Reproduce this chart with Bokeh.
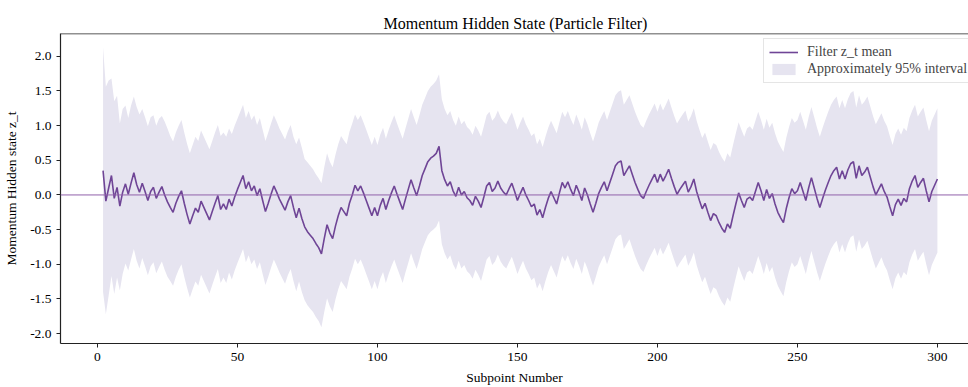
from bokeh.plotting import figure
from bokeh.models import (Range1d, Span, Legend, LegendItem, FixedTicker, NumeralTickFormatter,
                          ColumnDataSource)
from bokeh.embed import file_html
from bokeh.resources import INLINE

mean = [
 0.35, -0.09, 0.10, 0.28, -0.05, 0.11, -0.16, 0.04, 0.16, 0.01,
 0.17, 0.32, 0.15, 0.04, 0.17, 0.05, -0.08, 0.05, 0.11, -0.05,
 0.04, 0.12, 0.00, -0.10, -0.18, -0.25, -0.12, -0.02, 0.06, -0.12,
 -0.28, -0.42, -0.30, -0.19, -0.25, -0.09, -0.18, -0.27, -0.36, -0.24,
 -0.12, -0.01, -0.21, -0.13, -0.21, -0.06, -0.16, -0.03, 0.08, 0.18,
 0.28, 0.09, 0.19, 0.06, 0.13, -0.01, 0.09, -0.08, -0.24, -0.12,
 0.01, 0.13, 0.04, -0.06, -0.14, -0.22, -0.10, -0.01, -0.18, -0.33,
 -0.19, -0.34, -0.46, -0.53, -0.58, -0.63, -0.70, -0.76, -0.85, -0.63,
 -0.43, -0.55, -0.63, -0.45, -0.30, -0.18, -0.24, -0.30, -0.12, 0.00,
 0.14, 0.06, 0.13, 0.03, -0.08, -0.19, -0.30, -0.18, -0.30, -0.15,
 -0.05, -0.21, -0.08, 0.03, 0.13, 0.01, -0.10, -0.21, -0.06, 0.08,
 0.22, 0.10, -0.01, 0.13, 0.28, 0.38, 0.48, 0.53, 0.56, 0.60,
 0.70, 0.35, 0.22, 0.13, 0.19, 0.06, -0.02, 0.11, 0.00, 0.05,
 -0.04, -0.08, -0.15, -0.02, -0.09, -0.18, -0.03, 0.13, 0.18, 0.05,
 0.10, 0.20, 0.10, 0.04, 0.00, 0.09, 0.17, 0.05, -0.08, 0.02,
 0.11, 0.00, -0.08, -0.17, -0.13, -0.29, -0.21, -0.33, -0.18, -0.05,
 0.05, -0.04, -0.13, 0.03, 0.18, 0.10, 0.19, 0.08, -0.01, 0.14,
 0.04, -0.08, 0.10, 0.00, -0.13, -0.25, -0.12, 0.02, 0.11, 0.19,
 0.06, 0.18, 0.30, 0.42, 0.47, 0.49, 0.28, 0.35, 0.42, 0.30,
 0.18, 0.08, -0.01, -0.05, 0.05, 0.14, 0.22, 0.30, 0.18, 0.30,
 0.20, 0.28, 0.37, 0.24, 0.12, 0.01, 0.08, 0.14, 0.20, 0.04,
 0.12, 0.23, 0.05, -0.08, -0.20, -0.12, -0.25, -0.37, -0.27, -0.30,
 -0.40, -0.48, -0.54, -0.42, -0.48, -0.30, -0.13, 0.03, -0.08, -0.18,
 -0.06, -0.03, -0.08, 0.05, 0.18, 0.06, -0.08, 0.08, -0.05, 0.02,
 -0.13, -0.25, -0.33, -0.40, -0.20, -0.04, 0.09, 0.02, 0.06, 0.18,
 0.05, -0.08, 0.10, 0.25, 0.10, -0.05, -0.18, -0.05, 0.07, 0.18,
 0.28, 0.35, 0.40, 0.23, 0.35, 0.23, 0.36, 0.45, 0.48, 0.24,
 0.42, 0.28, 0.33, 0.40, 0.26, 0.12, 0.00, 0.08, 0.16, 0.05,
 -0.03, -0.17, -0.30, -0.14, -0.06, -0.15, -0.05, -0.10, 0.09, 0.20,
 0.28, 0.11, 0.18, 0.24, 0.06, -0.10, 0.05, 0.14, 0.23,
]

upper = [
 2.13, 1.56, 1.65, 1.68, 1.35, 1.43, 1.03, 1.24, 1.29, 1.11,
 1.29, 1.42, 1.27, 1.16, 1.24, 1.12, 0.99, 1.12, 1.15, 1.00,
 1.10, 1.14, 1.06, 0.96, 0.85, 0.77, 0.90, 1.00, 1.08, 0.90,
 0.74, 0.60, 0.72, 0.84, 0.78, 0.93, 0.84, 0.75, 0.66, 0.78,
 0.90, 1.01, 0.85, 0.90, 0.84, 0.96, 0.88, 1.00, 1.10, 1.20,
 1.30, 1.11, 1.21, 1.08, 1.15, 1.01, 1.11, 0.94, 0.78, 0.90,
 1.03, 1.15, 1.06, 0.96, 0.88, 0.80, 0.92, 1.01, 0.84, 0.73,
 0.83, 0.68, 0.52, 0.47, 0.42, 0.37, 0.30, 0.24, 0.17, 0.40,
 0.60, 0.48, 0.40, 0.58, 0.73, 0.85, 0.79, 0.73, 0.91, 1.03,
 1.16, 1.08, 1.15, 1.05, 0.94, 0.83, 0.72, 0.84, 0.72, 0.87,
 0.97, 0.81, 0.94, 1.05, 1.15, 1.03, 0.92, 0.81, 0.96, 1.10,
 1.24, 1.12, 1.01, 1.15, 1.30, 1.40, 1.50, 1.56, 1.60, 1.65,
 1.74, 1.38, 1.24, 1.15, 1.21, 1.08, 1.00, 1.13, 1.02, 1.07,
 0.98, 0.94, 0.87, 1.00, 0.93, 0.84, 0.99, 1.15, 1.20, 1.07,
 1.12, 1.22, 1.12, 1.06, 1.02, 1.11, 1.19, 1.07, 0.94, 1.04,
 1.13, 1.02, 0.94, 0.85, 0.89, 0.73, 0.81, 0.69, 0.84, 0.97,
 1.07, 0.98, 0.89, 1.05, 1.20, 1.12, 1.21, 1.10, 1.01, 1.16,
 1.06, 0.94, 1.12, 1.02, 0.89, 0.77, 0.90, 1.04, 1.13, 1.21,
 1.08, 1.20, 1.32, 1.44, 1.49, 1.51, 1.30, 1.37, 1.44, 1.32,
 1.20, 1.10, 1.01, 0.97, 1.07, 1.16, 1.24, 1.32, 1.20, 1.32,
 1.22, 1.30, 1.39, 1.26, 1.14, 1.03, 1.10, 1.16, 1.22, 1.06,
 1.14, 1.25, 1.07, 0.94, 0.82, 0.90, 0.77, 0.65, 0.75, 0.72,
 0.62, 0.54, 0.48, 0.60, 0.54, 0.72, 0.89, 1.05, 0.94, 0.84,
 0.96, 0.99, 0.94, 1.07, 1.20, 1.08, 0.94, 1.10, 0.97, 1.04,
 0.89, 0.77, 0.69, 0.62, 0.82, 0.98, 1.11, 1.04, 1.08, 1.20,
 1.07, 0.94, 1.12, 1.27, 1.12, 0.97, 0.84, 0.97, 1.09, 1.20,
 1.30, 1.37, 1.42, 1.25, 1.37, 1.25, 1.38, 1.47, 1.50, 1.26,
 1.44, 1.30, 1.35, 1.42, 1.28, 1.14, 1.02, 1.10, 1.18, 1.07,
 0.99, 0.85, 0.72, 0.88, 0.96, 0.87, 0.97, 0.92, 1.11, 1.22,
 1.30, 1.13, 1.20, 1.26, 1.08, 0.92, 1.07, 1.16, 1.25,
]

lower = [
 -1.40, -1.72, -1.45, -1.17, -1.43, -1.19, -1.38, -1.14, -0.99, -1.09,
 -0.93, -0.78, -0.95, -1.06, -0.91, -1.03, -1.16, -1.03, -0.97, -1.13,
 -1.04, -0.96, -1.08, -1.18, -1.24, -1.31, -1.18, -1.08, -1.00, -1.18,
 -1.34, -1.48, -1.36, -1.25, -1.31, -1.15, -1.24, -1.33, -1.42, -1.30,
 -1.18, -1.07, -1.27, -1.19, -1.27, -1.12, -1.22, -1.09, -0.98, -0.88,
 -0.78, -0.97, -0.87, -1.00, -0.93, -1.07, -0.97, -1.14, -1.30, -1.18,
 -1.05, -0.93, -1.02, -1.12, -1.20, -1.28, -1.16, -1.07, -1.24, -1.39,
 -1.25, -1.40, -1.52, -1.59, -1.64, -1.69, -1.76, -1.82, -1.91, -1.69,
 -1.49, -1.61, -1.69, -1.51, -1.36, -1.24, -1.30, -1.36, -1.18, -1.06,
 -0.92, -1.00, -0.93, -1.03, -1.14, -1.25, -1.36, -1.24, -1.36, -1.21,
 -1.11, -1.27, -1.14, -1.03, -0.93, -1.05, -1.16, -1.27, -1.12, -0.98,
 -0.84, -0.96, -1.07, -0.93, -0.78, -0.68, -0.58, -0.53, -0.50, -0.46,
 -0.37, -0.71, -0.84, -0.93, -0.87, -1.00, -1.08, -0.95, -1.06, -1.01,
 -1.10, -1.14, -1.21, -1.08, -1.15, -1.24, -1.09, -0.93, -0.88, -1.01,
 -0.96, -0.86, -0.96, -1.02, -1.06, -0.97, -0.89, -1.01, -1.14, -1.04,
 -0.95, -1.06, -1.14, -1.23, -1.19, -1.35, -1.27, -1.39, -1.24, -1.11,
 -1.01, -1.10, -1.19, -1.03, -0.88, -0.96, -0.87, -0.98, -1.07, -0.92,
 -1.02, -1.14, -0.96, -1.06, -1.19, -1.31, -1.18, -1.04, -0.95, -0.87,
 -1.00, -0.88, -0.76, -0.64, -0.59, -0.57, -0.78, -0.71, -0.64, -0.76,
 -0.88, -0.98, -1.07, -1.11, -1.01, -0.92, -0.84, -0.76, -0.88, -0.76,
 -0.86, -0.78, -0.69, -0.82, -0.94, -1.05, -0.98, -0.92, -0.86, -1.02,
 -0.94, -0.83, -1.01, -1.14, -1.26, -1.18, -1.31, -1.43, -1.33, -1.36,
 -1.46, -1.54, -1.60, -1.48, -1.54, -1.36, -1.19, -1.03, -1.14, -1.24,
 -1.12, -1.09, -1.14, -1.01, -0.88, -1.00, -1.14, -0.98, -1.11, -1.04,
 -1.19, -1.31, -1.39, -1.46, -1.26, -1.10, -0.97, -1.04, -1.00, -0.88,
 -1.01, -1.14, -0.96, -0.81, -0.96, -1.11, -1.24, -1.11, -0.99, -0.88,
 -0.78, -0.71, -0.66, -0.83, -0.71, -0.83, -0.70, -0.61, -0.58, -0.82,
 -0.64, -0.78, -0.73, -0.66, -0.80, -0.94, -1.06, -0.98, -0.90, -1.01,
 -1.09, -1.23, -1.36, -1.20, -1.12, -1.21, -1.11, -1.16, -0.97, -0.86,
 -0.78, -0.95, -0.88, -0.82, -1.00, -1.16, -1.01, -0.92, -0.83,
]

subpoint = list(range(2, 2 + len(mean)))

x_ticks = [0, 50, 100, 150, 200, 250, 300]
y_ticks = [-2.0, -1.5, -1.0, -0.5, 0.0, 0.5, 1.0, 1.5, 2.0]

FONT = "Liberation Serif"
LINE_COLOR = "#6f4596"
BAND_COLOR = "#e6e4f0"
ZERO_COLOR = "#9060aa"
SPINE = "#222222"

src = ColumnDataSource(dict(x=subpoint, mean=mean, upper=upper, lower=lower))

y_range = Range1d(-2.143, 2.329)
p = figure(width=968, height=387, output_backend="svg", toolbar_location=None,
           x_range=Range1d(-13.2, 311.1), y_range=y_range,
           min_border_left=60, min_border_right=0, min_border_top=33, min_border_bottom=41)

p.title.text = "Momentum Hidden State (Particle Filter)"
p.title.align = "left"
p.title.offset = 323
p.title.text_font = FONT
p.title.text_font_size = "16px"
p.title.text_font_style = "normal"
p.title.text_color = "#000000"
p.title.standoff = 4

band = p.varea(x="x", y1="lower", y2="upper", source=src, fill_color=BAND_COLOR, fill_alpha=1.0)
p.add_layout(Span(location=0, dimension="width", line_color=ZERO_COLOR, line_width=1.0))
ln = p.line(x="x", y="mean", source=src, line_color=LINE_COLOR, line_width=1.6)

# top spine (the right spine lies beyond the visible window in the reference)
p.add_layout(Span(location=y_range.end, dimension="width", line_color=SPINE, line_width=1.5))

legend = Legend(items=[LegendItem(label="Filter z_t mean", renderers=[ln]),
                       LegendItem(label="Approximately 95% interval", renderers=[band])],
                location=(703, 260))
legend.label_text_font = FONT
legend.label_text_font_size = "14px"
legend.label_standoff = 9
legend.glyph_width = 29
legend.glyph_height = 14
legend.spacing = 1
legend.padding = 5
legend.margin = 0
legend.border_line_color = "#cccccc"
legend.border_line_width = 1
legend.background_fill_alpha = 0.85
p.add_layout(legend)

p.grid.visible = False
p.outline_line_color = None

p.xaxis.ticker = FixedTicker(ticks=x_ticks)
p.yaxis.ticker = FixedTicker(ticks=y_ticks)
p.yaxis.formatter = NumeralTickFormatter(format="0.0")
p.xaxis.axis_label = "Subpoint Number"
p.yaxis.axis_label = "Momentum Hidden state z_t"
for ax in (p.xaxis, p.yaxis):
    ax.axis_label_text_font = FONT
    ax.axis_label_text_font_size = "13.5px"
    ax.axis_label_text_font_style = "normal"
    ax.axis_label_text_color = "#000000"
    ax.major_label_text_font = FONT
    ax.major_label_text_font_size = "13.5px"
    ax.major_label_text_color = "#000000"
    ax.major_tick_out = 4
    ax.major_tick_in = 0
    ax.minor_tick_out = 0
    ax.minor_tick_in = 0
    ax.axis_line_color = SPINE
    ax.axis_line_width = 1.2
    ax.major_tick_line_color = SPINE
p.xaxis.axis_label_standoff = 6
p.yaxis.axis_label_standoff = 8

open("out.html", "w").write(file_html(p, INLINE))
